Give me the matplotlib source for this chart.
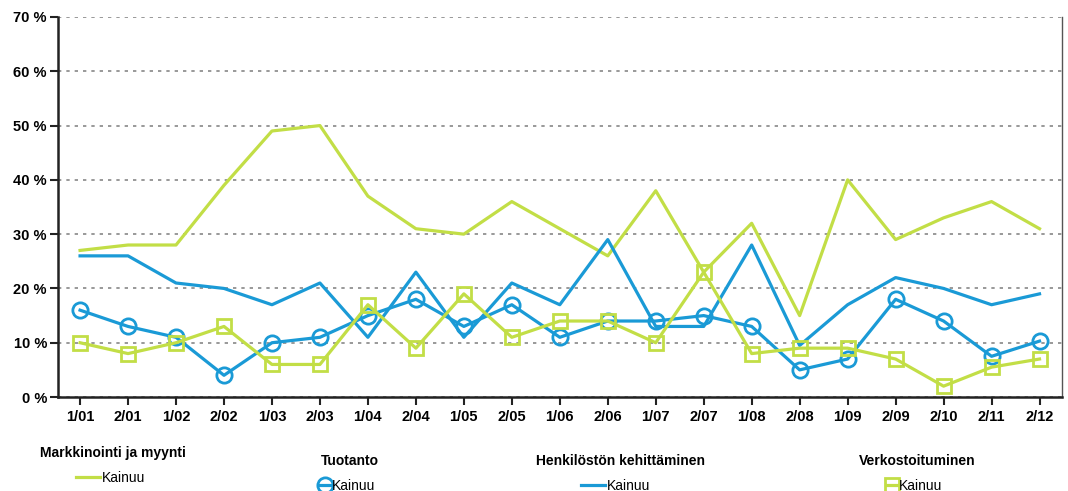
import matplotlib.pyplot as plt

plt.rcParams["font.family"] = ["Liberation Sans", "DejaVu Sans"]

periods = ["1/01", "2/01", "1/02", "2/02", "1/03", "2/03", "1/04", "2/04", "1/05", "2/05",
           "1/06", "2/06", "1/07", "2/07", "1/08", "2/08", "1/09", "2/09", "2/10", "2/11", "2/12"]

markkinointi = [27, 28, 28, 39, 49, 50, 37, 31, 30, 36, 31, 26, 38, 23, 32, 15, 40, 29, 33, 36, 31]
tuotanto = [16, 13, 11, 4, 10, 11, 15, 18, 13, 17, 11, 14, 14, 15, 13, 5, 7, 18, 14, 7.5, 10.3]
henkilosto = [26, 26, 21, 20, 17, 21, 11, 23, 11, 21, 17, 29, 13, 13, 28, 9.5, 17, 22, 20, 17, 19]
verkosto = [10, 8, 10, 13, 6, 6, 17, 9, 19, 11, 14, 14, 10, 23, 8, 9, 9, 7, 2, 5.5, 7]

group_titles = ["Markkinointi ja myynti", "Tuotanto", "Henkilöstön kehittäminen", "Verkostoituminen"]

green = "#C2DE46"
blue = "#1A9AD6"

fig = plt.figure(figsize=(10.68, 4.91), dpi=100)
ax = fig.add_axes([0.0543, 0.1914, 0.9397, 0.774])

x = list(range(len(periods)))
h1, = ax.plot(x, markkinointi, color=green, lw=2.3, zorder=3)
h2, = ax.plot(x, tuotanto, color=blue, lw=2.3, marker="o", ms=11,
              mfc="none", mec=blue, mew=2, zorder=4)
h3, = ax.plot(x, henkilosto, color=blue, lw=2.3, zorder=3)
h4, = ax.plot(x, verkosto, color=green, lw=2.3, marker="s", ms=10,
              mfc="none", mec=green, mew=2, zorder=4)

ax.set_xlim(-0.46, len(periods) - 1 + 0.46)
ax.set_ylim(0, 70)
ax.set_yticks(range(0, 71, 10))
ax.set_yticklabels([f"{v} %" for v in range(0, 71, 10)], fontsize=10.5, fontweight="bold")
ax.set_xticks(x)
ax.set_xticklabels(periods, fontsize=10.5, fontweight="bold")
ax.tick_params(axis="both", direction="out", length=6, width=1.5, color="#222222")
ax.tick_params(axis="y", pad=2)
ax.yaxis.grid(True, linestyle=(0, (2, 3)), color="#888888", lw=1.2)
ax.set_axisbelow(True)

ax.spines["left"].set_linewidth(1.8)
ax.spines["bottom"].set_linewidth(1.8)
ax.spines["left"].set_color("#222222")
ax.spines["bottom"].set_color("#222222")
ax.spines["top"].set_visible(False)
ax.spines["right"].set_color("#555555")
ax.spines["right"].set_linewidth(1)

# legend groups below the plot: (title centre x, title y, entry left x, entry y) in pixels
spots = [(113, 453, 76, 478), (350, 461, 320, 486), (620, 461, 581, 486), (917, 461, 887, 486)]
W, H = 1068, 491
for handle, title, (tx, ty, ex, ey) in zip([h1, h2, h3, h4], group_titles, spots):
    fig.text(tx / W, 1 - ty / H, title, ha="center", va="center",
             fontsize=10, fontweight="bold")
    fig.legend([handle], ["Kainuu"], loc="center left",
               bbox_to_anchor=(ex / W, 1 - ey / H), frameon=False, fontsize=10,
               handlelength=1.7 if handle in (h1, h3) else 0.7,
               handletextpad=0.15, borderpad=0, borderaxespad=0)

fig.savefig("out.png", dpi=100)
